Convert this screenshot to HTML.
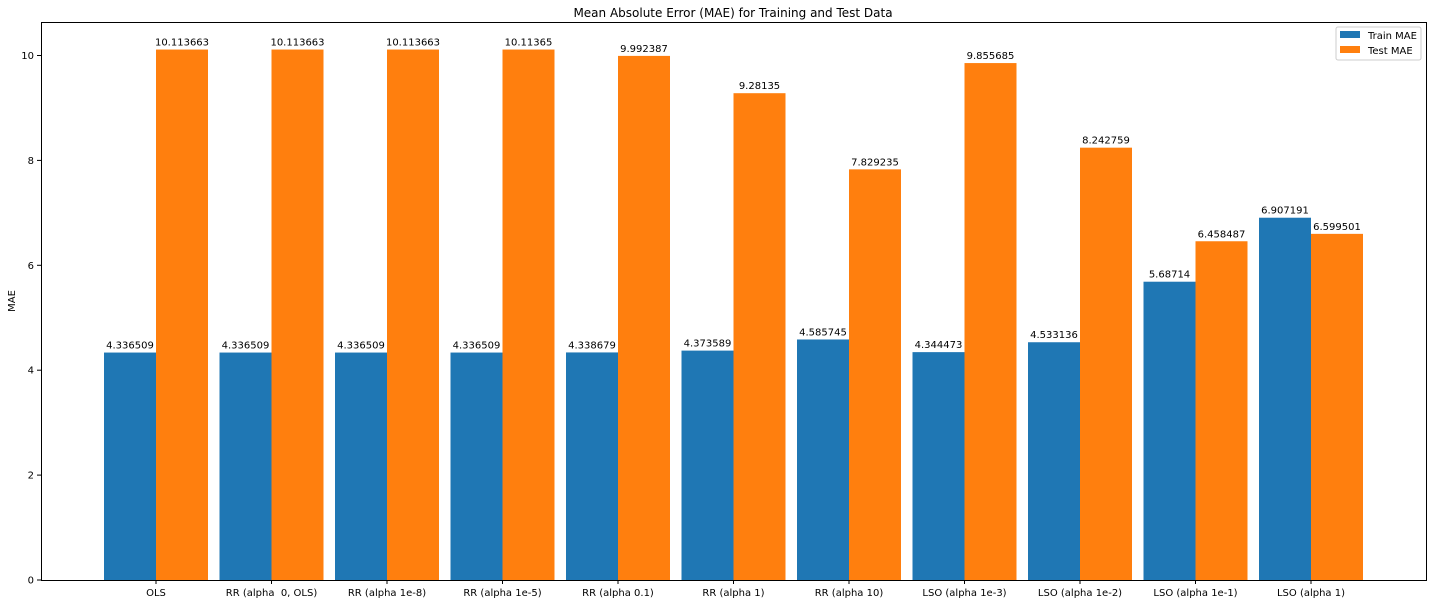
<!DOCTYPE html>
<html><head><meta charset="utf-8"><style>
body{margin:0;background:#fff;font-family:"Liberation Sans","DejaVu Sans",sans-serif;}
svg text{font-family:"DejaVu Sans","Liberation Sans",sans-serif;font-size:10px;fill:#000;white-space:pre;}
</style></head><body>
<svg id="chart" width="1432" height="604">
<text x="733" y="17" text-anchor="middle" style="font-size:12px">Mean Absolute Error (MAE) for Training and Test Data</text>
<text transform="translate(15,301) rotate(-90)" text-anchor="middle">MAE</text>
<g id="bars"></g>
<g id="axes"></g>
<g>
<rect x="1336" y="27" width="85" height="33" rx="2" fill="#fff" stroke="#ccc"/>
<rect x="1340" y="31" width="20" height="7" fill="#1f77b4"/>
<text x="1368" y="39">Train MAE</text>
<rect x="1340" y="46" width="20" height="7" fill="#ff7f0e"/>
<text x="1368" y="54">Test MAE</text>
</g>
</svg>
<script>
const categories=["OLS","RR (alpha  0, OLS)","RR (alpha 1e-8)","RR (alpha 1e-5)","RR (alpha 0.1)","RR (alpha 1)","RR (alpha 10)","LSO (alpha 1e-3)","LSO (alpha 1e-2)","LSO (alpha 1e-1)","LSO (alpha 1)"];
const trainMAE=[4.336509,4.336509,4.336509,4.336509,4.338679,4.373589,4.585745,4.344473,4.533136,5.68714,6.907191];
const testMAE=[10.113663,10.113663,10.113663,10.11365,9.992387,9.28135,7.829235,9.855685,8.242759,6.458487,6.599501];
const trainLabels=["4.336509","4.336509","4.336509","4.336509","4.338679","4.373589","4.585745","4.344473","4.533136","5.68714","6.907191"];
const testLabels=["10.113663","10.113663","10.113663","10.11365","9.992387","9.28135","7.829235","9.855685","8.242759","6.458487","6.599501"];
const yTicks=[0,2,4,6,8,10];
const L=41,R=1426,T=22,B=580,ppu=52.45;
const y=v=>B-v*ppu;
const xc=i=>156+i*115.5;
const NS="http://www.w3.org/2000/svg";
const bars=document.getElementById('bars'),axes=document.getElementById('axes');
function mk(tag,attrs,parent,txt){const e=document.createElementNS(NS,tag);for(const k in attrs)e.setAttribute(k,attrs[k]);if(txt!==undefined)e.textContent=txt;parent.appendChild(e);return e;}
categories.forEach((c,i)=>{
  const b=mk('rect',{x:xc(i)-52,y:y(trainMAE[i]),width:52,height:trainMAE[i]*ppu,fill:'#1f77b4'},bars);
  
  
  const o=mk('rect',{x:xc(i),y:y(testMAE[i]),width:52,height:testMAE[i]*ppu,fill:'#ff7f0e'},bars);
  
  
  const t1=mk('text',{x:xc(i)-26,y:y(trainMAE[i])-4,'text-anchor':'middle'},bars,trainLabels[i]);
  
  
  const t2=mk('text',{x:xc(i)+26,y:y(testMAE[i])-4,'text-anchor':'middle'},bars,testLabels[i]);
  
  
  const tk=mk('line',{x1:xc(i),x2:xc(i),y1:B,y2:B+4,stroke:'#000'},axes);
  
  
  const tl=mk('text',{x:xc(i),y:B+16,'text-anchor':'middle'},axes,c);
  
  
});
yTicks.forEach(v=>{
  const tk=mk('line',{x1:L-4,x2:L,y1:y(v),y2:y(v),stroke:'#000'},axes);
  
  
  const tl=mk('text',{x:L-7,y:y(v)+3.5,'text-anchor':'end'},axes,String(v));
  
  
});
const fr=mk('rect',{x:L+0.5,y:T+0.5,width:R-L,height:B-T,fill:'none',stroke:'#000','stroke-width':1},axes);


</script>
</body></html>
